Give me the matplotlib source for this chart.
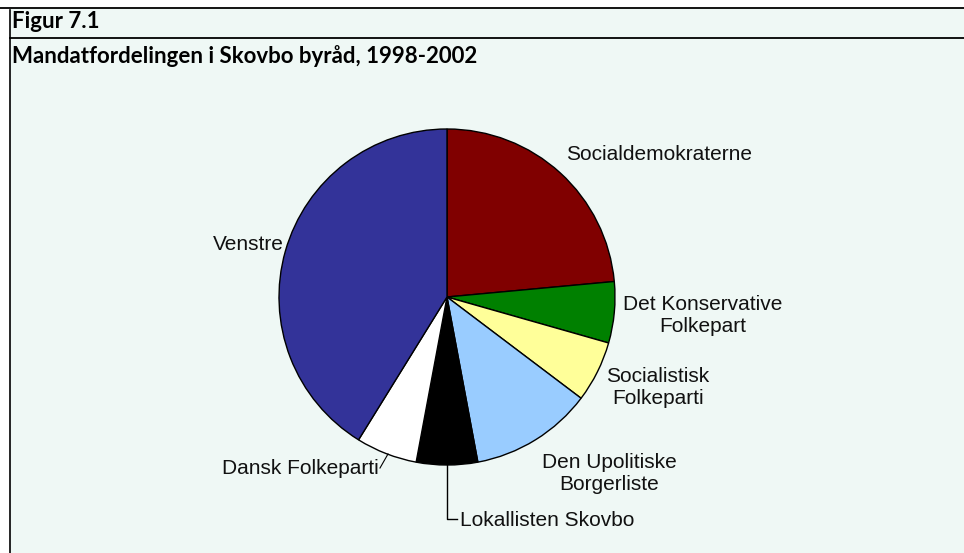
import matplotlib.pyplot as plt
from matplotlib.lines import Line2D

# seats per party, clockwise from the top
parties = ['Socialdemokraterne', 'Det Konservative\nFolkepart', 'Socialistisk\nFolkeparti',
           'Den Upolitiske\nBorgerliste', 'Lokallisten Skovbo', 'Dansk Folkeparti', 'Venstre']
seats = [4, 1, 1, 2, 1, 1, 7]
colors = ['#800000', '#008000', '#FFFF99', '#99CCFF', '#000000', '#FFFFFF', '#333399']

W, H = 964, 553
bg = '#EFF8F5'

fig = plt.figure(figsize=[W / 100, H / 100], dpi=100)
fig.patch.set_facecolor('white')
ax = fig.add_axes([0, 0, 1, 1])


# pixel coords from the top, flipped for matplotlib
def py(y):
    return H - y


# pie
cx, cy, r = 447, py(297), 168
ax.pie(seats, colors=colors, startangle=90, counterclock=False, center=(cx, cy), radius=r,
       wedgeprops={'edgecolor': 'black', 'linewidth': 1}, frame=True)
ax.set_xlim(0, W)
ax.set_ylim(0, H)
ax.set_aspect('equal')
ax.axis('off')

# mint panel and frame lines
ax.add_patch(plt.Rectangle((10, 0), W - 10, py(8), facecolor=bg, edgecolor='none', zorder=0))
ax.add_line(Line2D([0, W], [py(8), py(8)], color='black', lw=1.3))
ax.add_line(Line2D([10, W], [py(38), py(38)], color='black', lw=1.3))
ax.add_line(Line2D([10, 10], [py(10), 0], color='black', lw=1.2))

ax.text(12, py(22), 'Figur 7.1', fontsize=16, fontweight='bold', family='Lato', va='center', ha='left')
ax.text(12, py(56), 'Mandatfordelingen i Skovbo byråd, 1998-2002', fontsize=16, fontweight='bold',
        family='Lato', va='center', ha='left')

lab = dict(fontsize=15, family='Liberation Sans', color='#111111', va='center')
ax.text(566, py(155), parties[0], ha='left', **lab)
ax.text(703, py(316), parties[1], ha='center', linespacing=1.2, **lab)
ax.text(658, py(388), parties[2], ha='center', linespacing=1.2, **lab)
ax.text(609, py(474), parties[3], ha='center', linespacing=1.2, **lab)
ax.text(460, py(520), parties[4], ha='left', **lab)
ax.text(379, py(468), parties[5], ha='right', **lab)
ax.text(284, py(245), parties[6], ha='right', **lab)

# leader lines
ax.add_line(Line2D([447, 447, 457], [py(465), py(519), py(519)], color='black', lw=1))
ax.add_line(Line2D([388, 380], [py(454), py(468)], color='black', lw=0.8))

fig.savefig('out.png', dpi=100, facecolor='white')
